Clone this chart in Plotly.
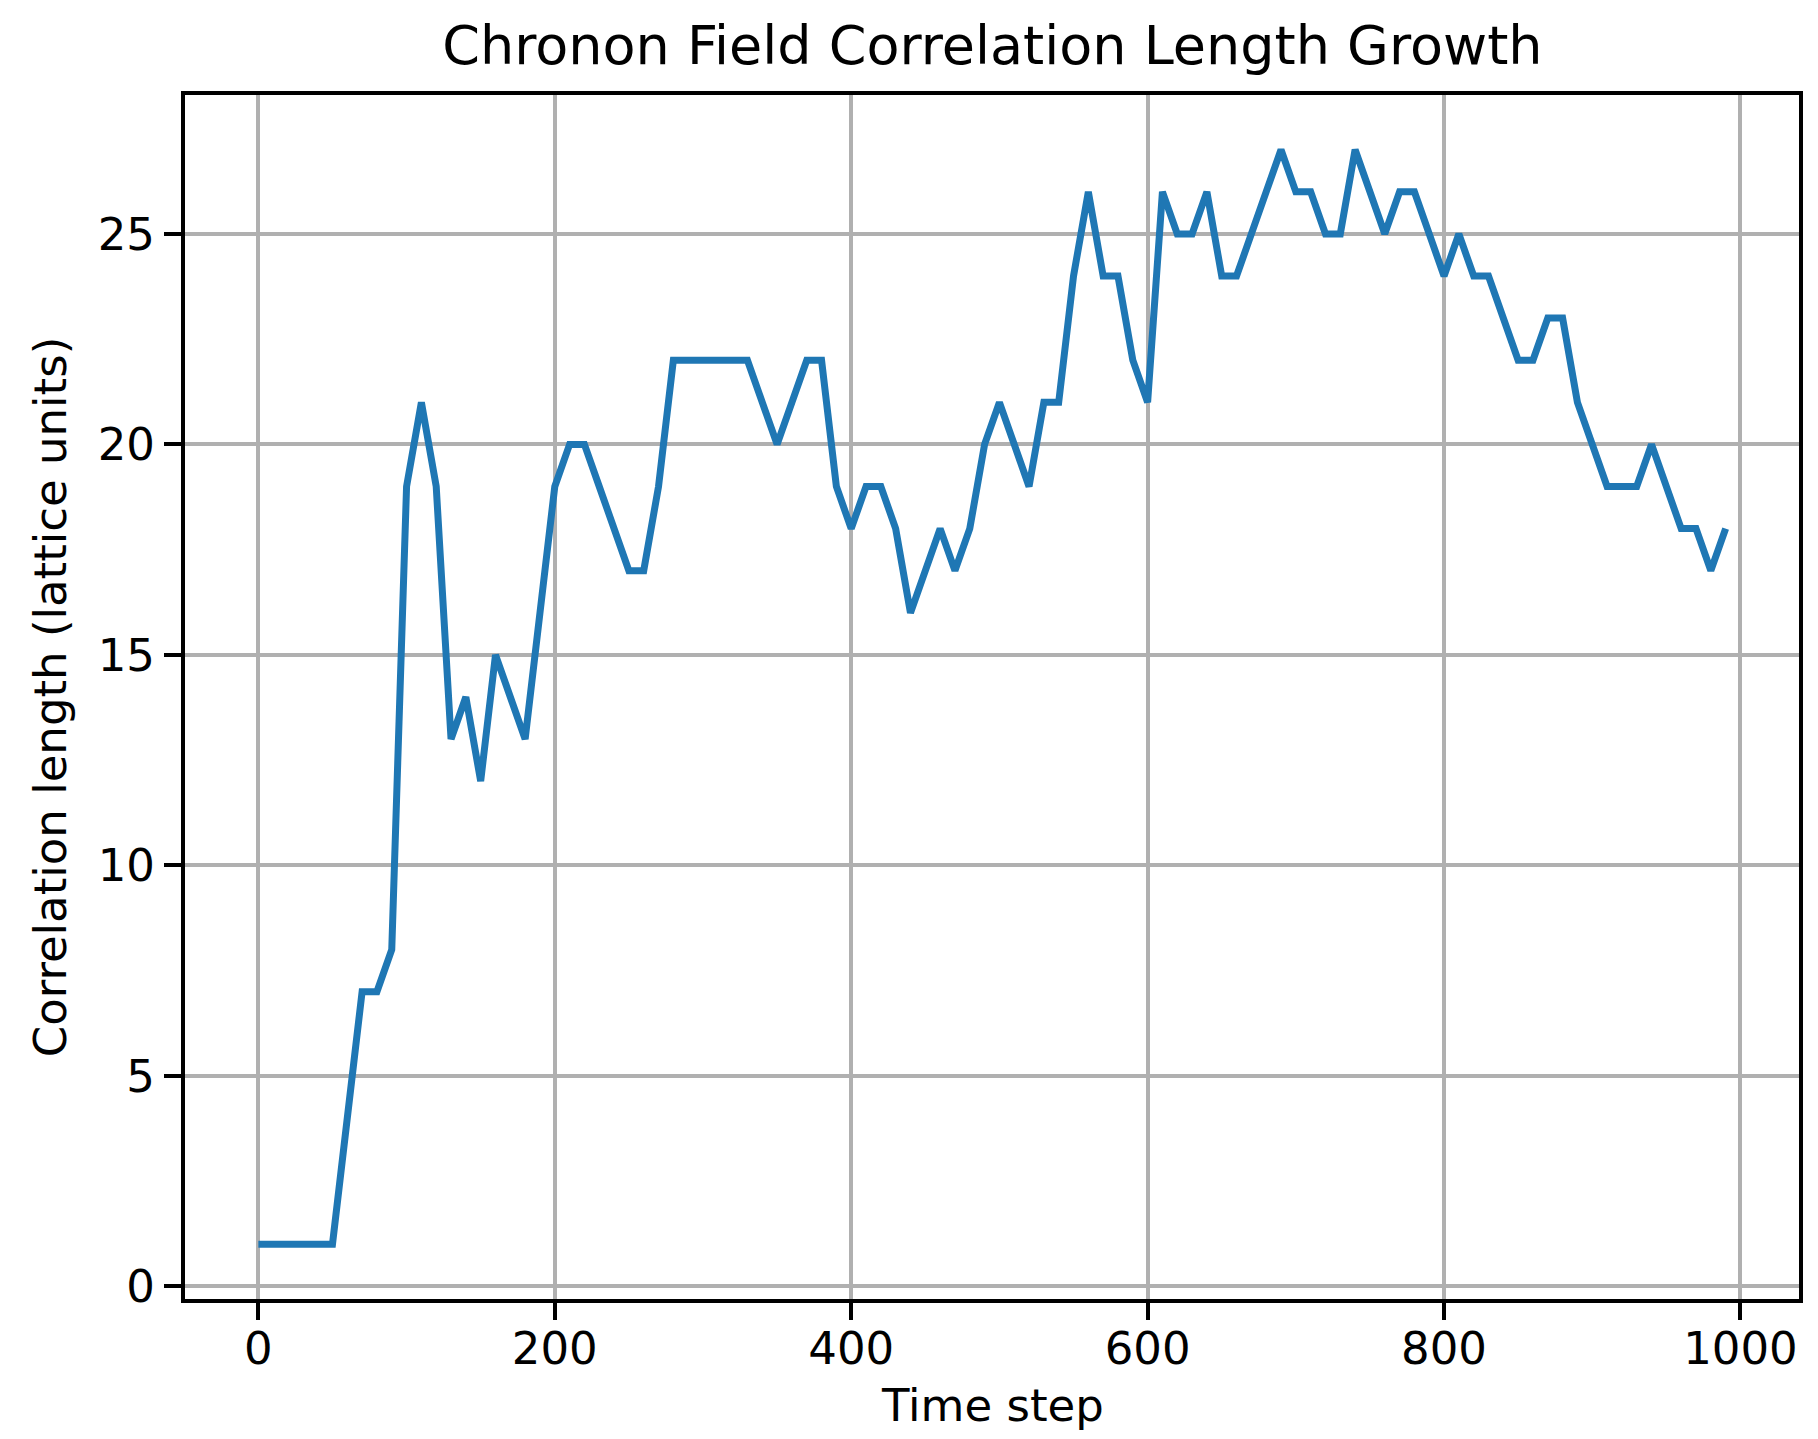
import plotly.graph_objects as go

time_step = list(range(0, 1000, 10))
corr_length = [
    1, 1, 1, 1, 1, 1, 4, 7, 7, 8,
    19, 21, 19, 13, 14, 12, 15, 14, 13, 16,
    19, 20, 20, 19, 18, 17, 17, 19, 22, 22,
    22, 22, 22, 22, 21, 20, 21, 22, 22, 19,
    18, 19, 19, 18, 16, 17, 18, 17, 18, 20,
    21, 20, 19, 21, 21, 24, 26, 24, 24, 22,
    21, 26, 25, 25, 26, 24, 24, 25, 26, 27,
    26, 26, 25, 25, 27, 26, 25, 26, 26, 25,
    24, 25, 24, 24, 23, 22, 22, 23, 23, 21,
    20, 19, 19, 19, 20, 19, 18, 18, 17, 18,
]
x_ticks = [0, 200, 400, 600, 800, 1000]
y_ticks = [0, 5, 10, 15, 20, 25]

title_text = "Chronon Field Correlation Length Growth"
x_label = "Time step"
y_label = "Correlation length (lattice units)"

FONT = "DejaVu Sans"
W, H = 1818, 1439
M_L, M_R, M_T, M_B = 177, 27, 87, 148
plot_h = H - M_T - M_B

fig = go.Figure()
fig.add_trace(go.Scatter(
    x=time_step, y=corr_length, mode="lines",
    line=dict(color="#1f77b4", width=7),
    showlegend=False,
))

axis_common = dict(
    showline=True, linecolor="black", linewidth=4, mirror=True,
    ticks="outside", ticklen=17, tickwidth=4, tickcolor="black",
    showgrid=True, gridcolor="#b0b0b0", gridwidth=3.5,
    zeroline=False, automargin=False,
    tickfont=dict(family=FONT, size=45, color="black"),
)

fig.update_layout(
    width=W, height=H,
    margin=dict(l=M_L, r=M_R, t=M_T, b=M_B),
    paper_bgcolor="white", plot_bgcolor="white",
    title=dict(text=title_text, x=0.5415, xanchor="center",
               y=1 - 37 / H, yanchor="middle", yref="container",
               font=dict(family=FONT, size=54, color="black")),
    xaxis=dict(range=[-49.5, 1039.5], tickvals=x_ticks,
               ticklabelstandoff=-10,
               **axis_common),
    yaxis=dict(range=[-0.3, 28.3], tickvals=y_ticks,
               title=dict(text=y_label, standoff=18,
                          font=dict(family=FONT, size=45, color="black")),
               **axis_common),
    annotations=[dict(
        text=x_label, xref="paper", yref="paper",
        x=0.5, y=-(1397 - (H - M_B)) / plot_h,
        xanchor="center", yanchor="middle", showarrow=False,
        font=dict(family=FONT, size=45, color="black"),
    )],
)

fig.write_html("out.html")
